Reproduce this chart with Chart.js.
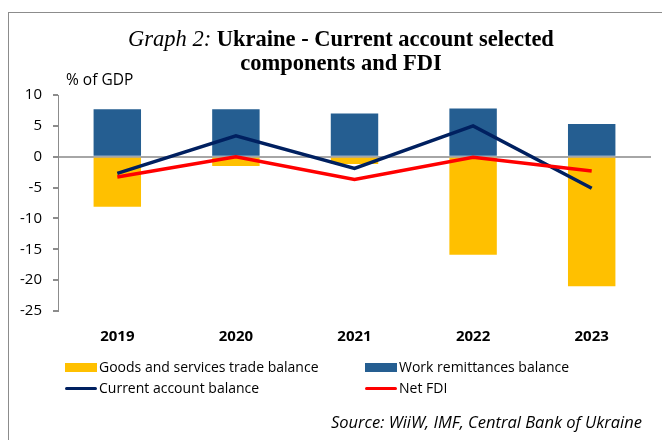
<!DOCTYPE html>
<html>
<head>
<meta charset="utf-8">
<script src="https://cdn.jsdelivr.net/npm/chart.js@4"></script>
<style>
  html, body { margin: 0; padding: 0; background: #fff; }
  #wrap { position: relative; width: 662px; height: 440px; overflow: hidden; font-family: "Open Sans", sans-serif; }
  #frame { position: absolute; left: 8px; top: 12px; width: 700px; height: 500px; border: 1px solid #8c8c8c; }
  #chart { position: absolute; left: 0; top: 0; }
  .title { position: absolute; left: 0; width: 682px; text-align: center; font-family: "Liberation Serif", serif; font-size: 22.5px; color: #000; line-height: 1; }
  .title i { font-weight: normal; }
  .title b { font-weight: bold; }
  #unit { position: absolute; left: 66px; top: 70px; font-size: 15.5px; line-height: 1.2; }
  .leg { position: absolute; font-size: 14px; color: #000; white-space: nowrap; line-height: 1; }
  .sw { position: absolute; }
  #source { position: absolute; right: 20px; top: 412px; font-size: 16.5px; font-style: italic; line-height: 1.2; }
</style>
</head>
<body>
<div id="wrap">
  <div id="frame"></div>
  <canvas id="chart" width="662" height="440"></canvas>
  <div class="title" style="top:28px"><i>Graph 2:</i> <b>Ukraine - Current account selected</b></div>
  <div class="title" style="top:52px"><b>components and FDI</b></div>
  <div id="unit">% of GDP</div>
  <div id="legend"></div>
  <div id="source">Source: WiiW, IMF, Central Bank of Ukraine</div>
</div>
<script>
// categories and series (% of GDP)
const years = ['2019', '2020', '2021', '2022', '2023'];
const tradeBalance = [-8.1, -1.5, -1.2, -15.9, -21.0];
const remittances = [7.7, 7.7, 7.0, 7.8, 5.3];
const currentAccount = [-2.7, 3.4, -1.9, 5.0, -5.1];
const netFDI = [-3.3, 0.0, -3.7, -0.1, -2.3];

const yellow = '#FFC000';
const blue = '#255E91';
const navy = '#002060';
const red = '#FF0000';

const ctx = document.getElementById('chart').getContext('2d');

const chart = new Chart(ctx, {
    type: 'bar',
    data: {
        labels: years,
        datasets: [
            {
                type: 'line',
                label: 'Current account balance',
                data: currentAccount,
                borderColor: navy,
                backgroundColor: navy,
                borderWidth: 3.5,
                pointRadius: 0,
                tension: 0,
                order: 1
            },
            {
                type: 'line',
                label: 'Net FDI',
                data: netFDI,
                borderColor: red,
                backgroundColor: red,
                borderWidth: 3.5,
                pointRadius: 0,
                tension: 0,
                order: 0
            },
            {
                label: 'Goods and services trade balance',
                data: tradeBalance,
                backgroundColor: yellow,
                categoryPercentage: 0.4,
                barPercentage: 1,
                order: 3
            },
            {
                label: 'Work remittances balance',
                data: remittances,
                backgroundColor: blue,
                categoryPercentage: 0.4,
                barPercentage: 1,
                order: 2
            }
        ]
    },
    options: {
        responsive: false,
        animation: false,
        layout: {
            padding: { top: 95, right: 11, bottom: 89, left: 0 }
        },
        plugins: {
            legend: { display: false },
            title: { display: false },
            tooltip: { enabled: false }
        },
        scales: {
            x: {
                stacked: true,
                grid: { display: false },
                border: { display: false },
                ticks: {
                    color: '#000',
                    padding: 9,
                    font: { family: 'Open Sans', size: 15, weight: 'bold' }
                },
                afterFit: function(scale) { scale.height = 40; }  // labels are clipped to the scale box
            },
            y: {
                min: -25,
                max: 10,
                ticks: {
                    stepSize: 5,
                    color: '#000',
                    padding: 11,
                    font: { family: 'Open Sans', size: 15 }
                },
                grid: {
                    color: c => (c.tick && c.tick.value === 0) ? '#a6a6a6' : 'transparent',
                    lineWidth: 2,
                    tickColor: '#8c8c8c',
                    tickLength: 5,
                    drawTicks: true
                },
                border: { display: true, color: '#8c8c8c', width: 1 },
                afterFit: function(scale) { scale.width = 58; }
            }
        }
    }
});

// legend, two columns
const legendItems = [
    { text: 'Goods and services trade balance', color: yellow, kind: 'box', x: 65, y: 360 },
    { text: 'Work remittances balance', color: blue, kind: 'box', x: 365, y: 360 },
    { text: 'Current account balance', color: navy, kind: 'line', x: 65, y: 381 },
    { text: 'Net FDI', color: red, kind: 'line', x: 365, y: 381 }
];
const legendEl = document.getElementById('legend');
legendItems.forEach(item => {
    const sw = document.createElement('div');
    sw.className = 'sw';
    sw.style.left = item.x + 'px';
    sw.style.width = '32px';
    sw.style.background = item.color;
    if (item.kind === 'box') {
        sw.style.top = (item.y + 3) + 'px';
        sw.style.height = '9px';
    } else {
        sw.style.top = (item.y + 6) + 'px';
        sw.style.height = '3px';
        sw.style.borderRadius = '2px';
    }
    legendEl.appendChild(sw);
    const t = document.createElement('div');
    t.className = 'leg';
    t.style.left = (item.x + 34) + 'px';
    t.style.top = item.y + 'px';
    t.textContent = item.text;
    legendEl.appendChild(t);
});
</script>
</body>
</html>
